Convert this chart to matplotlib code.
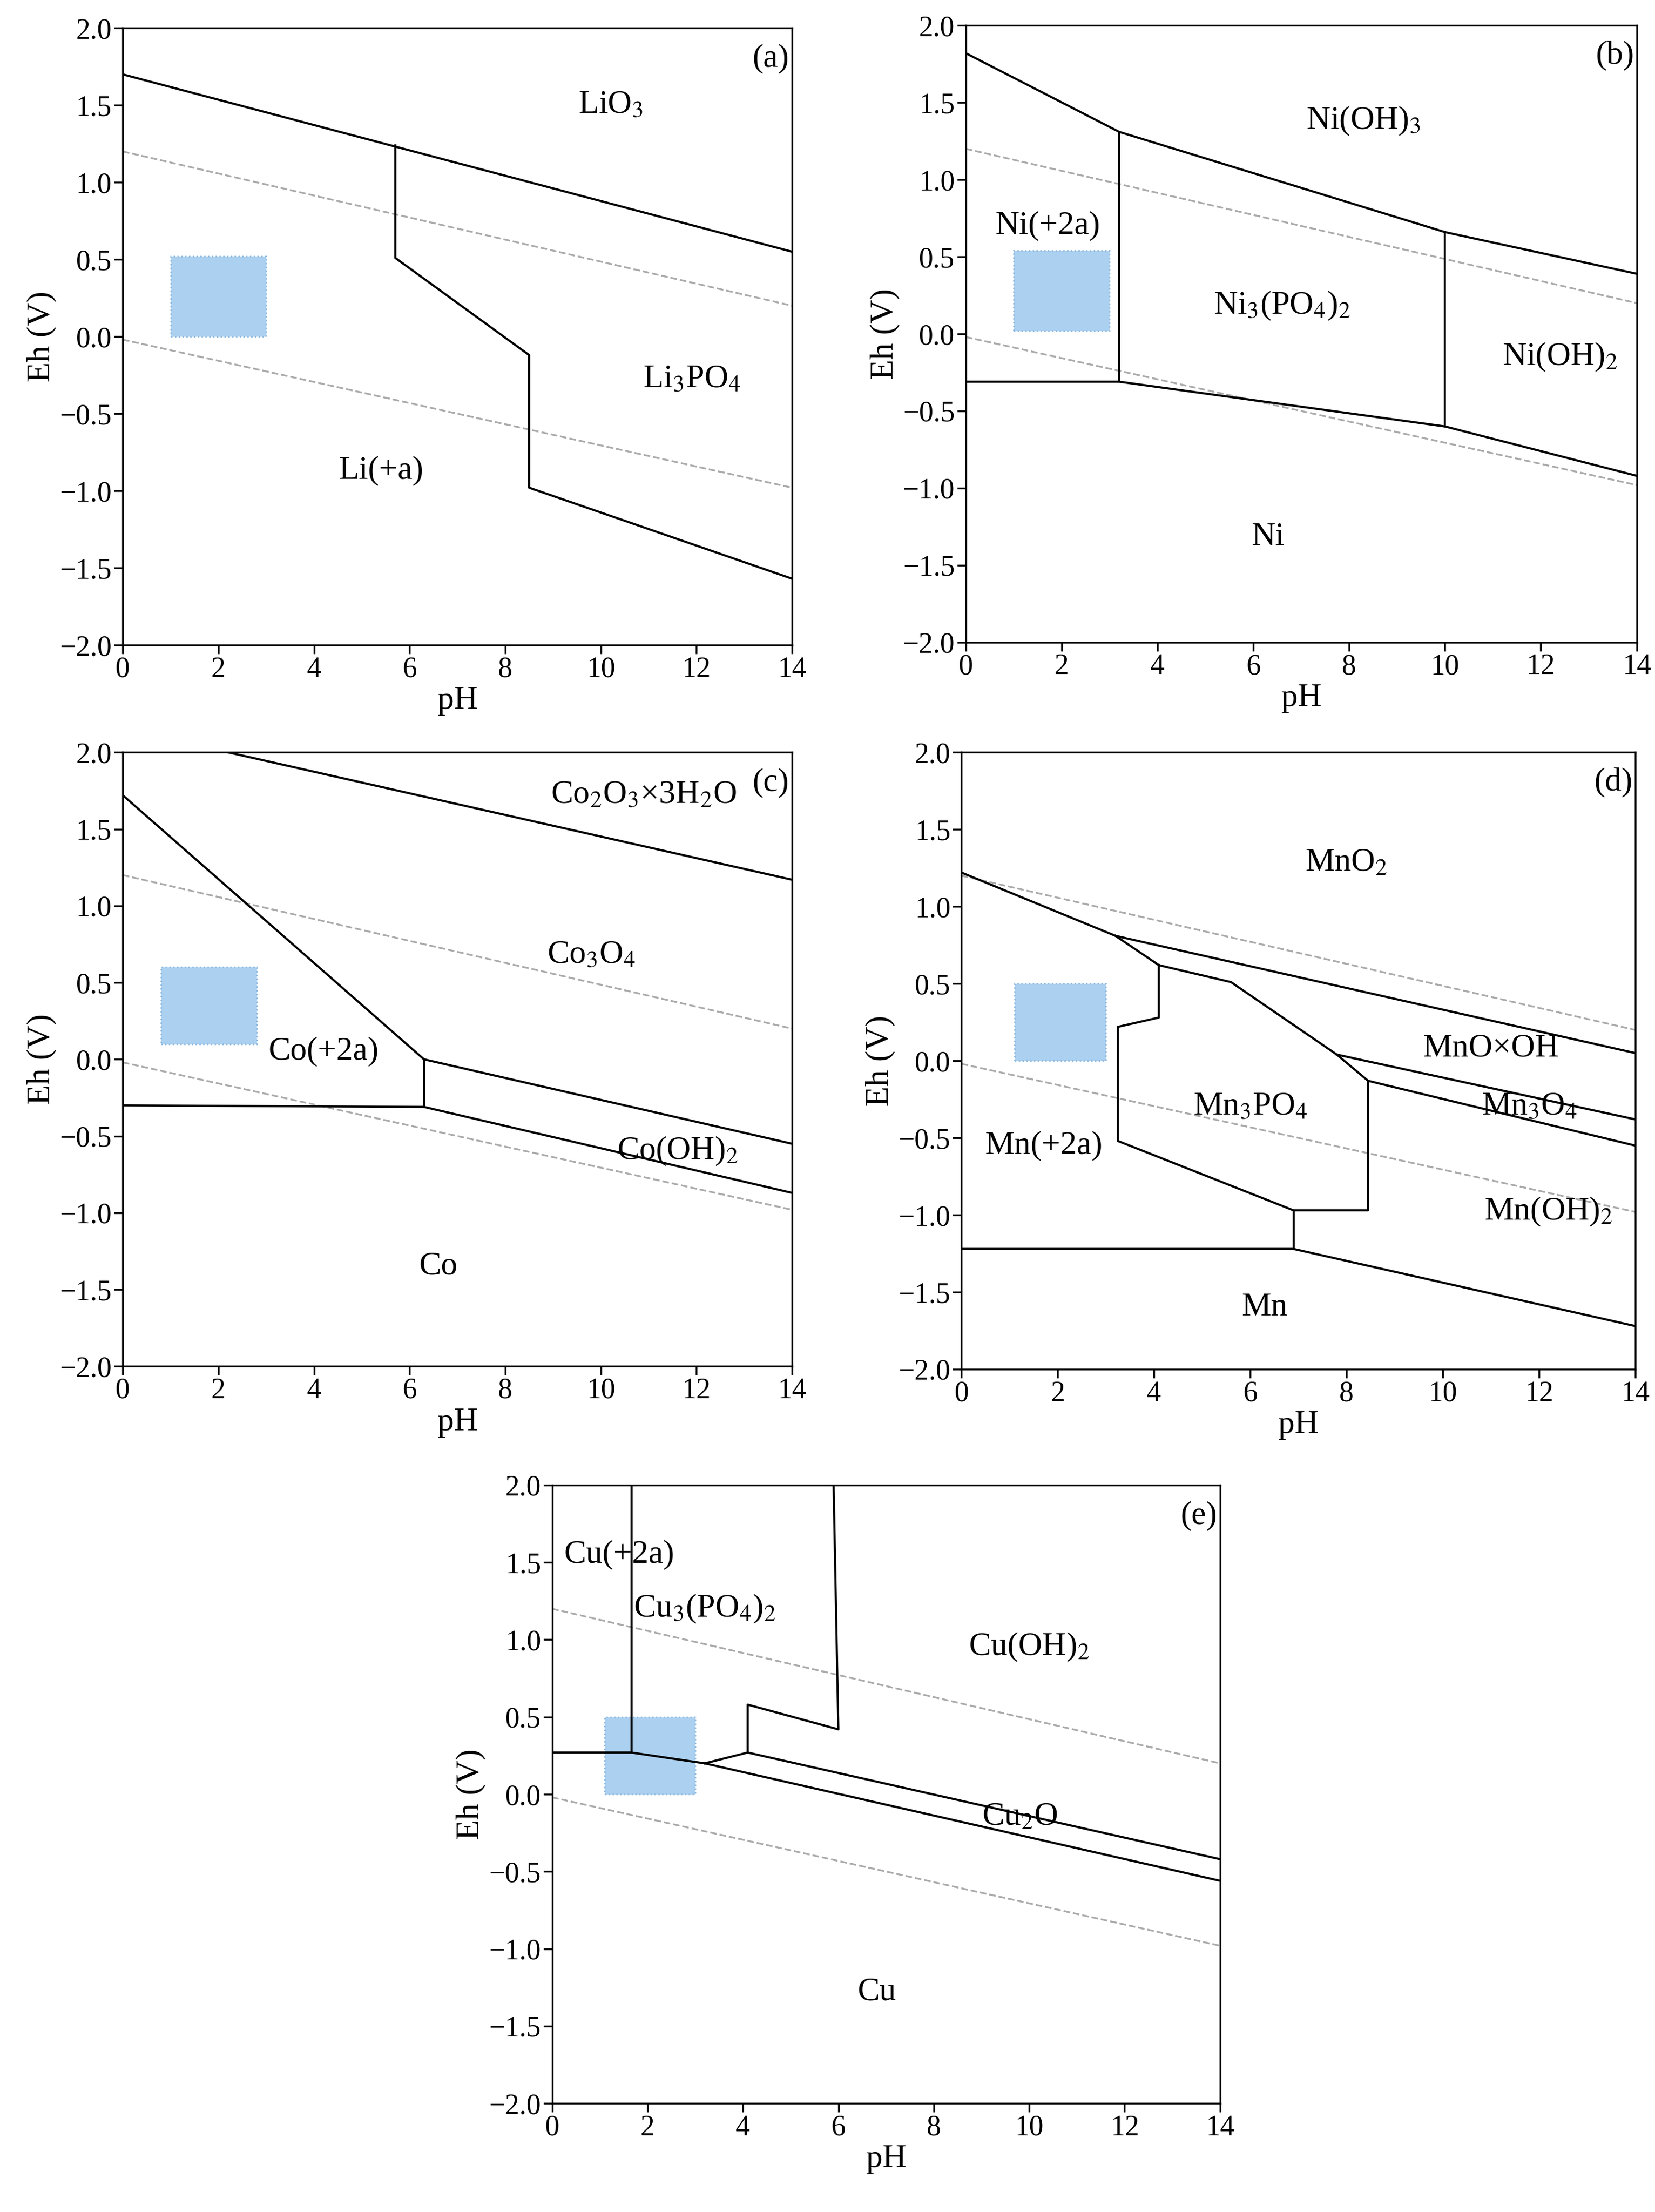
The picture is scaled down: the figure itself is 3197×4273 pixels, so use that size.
import matplotlib
matplotlib.use("Agg")
import matplotlib.pyplot as plt
from matplotlib.patches import Rectangle

plt.rcParams['font.family'] = ['Liberation Serif', 'DejaVu Serif']
plt.rcParams['mathtext.fontset'] = 'stix'

# water stability lines (pH, Eh)
water_upper = [(0, 1.2), (14, 0.2)]
water_lower = [(0, -0.02), (14, -0.98)]

# boundary polylines per panel
lines_a = [
    [(0, 1.7), (14, 0.55)],
    [(5.7, 1.24), (5.7, 0.51), (8.5, -0.12), (8.5, -0.98), (14, -1.57)],
]
labels_a = [("LiO$_3$", 10.2, 1.5), ("Li$_3$PO$_4$", 11.9, -0.28), ("Li(+a)", 5.4, -0.87)]

lines_b = [
    [(0, 1.82), (3.2, 1.31), (10.0, 0.66), (14, 0.39)],
    [(3.2, 1.31), (3.2, -0.31)],
    [(0, -0.31), (3.2, -0.31), (10.0, -0.6), (14, -0.92)],
    [(10.0, 0.66), (10.0, -0.6)],
]
labels_b = [("Ni(OH)$_3$", 8.3, 1.38), ("Ni(+2a)", 1.7, 0.7), ("Ni$_3$(PO$_4$)$_2$", 6.6, 0.18),
            ("Ni(OH)$_2$", 12.4, -0.15), ("Ni", 6.3, -1.32)]

lines_c = [
    [(2.2, 2.0), (14, 1.17)],
    [(0, 1.72), (6.3, 0.0), (14, -0.55)],
    [(6.3, 0.0), (6.3, -0.31)],
    [(0, -0.3), (6.3, -0.31), (14, -0.87)],
]
labels_c = [("Co$_2$O$_3$×3H$_2$O", 10.9, 1.72), ("Co$_3$O$_4$", 9.8, 0.68), ("Co(+2a)", 4.2, 0.05),
            ("Co(OH)$_2$", 11.6, -0.6), ("Co", 6.6, -1.35)]

lines_d = [
    [(0, 1.22), (3.2, 0.81), (14, 0.05)],
    [(3.2, 0.81), (4.1, 0.62), (5.6, 0.51), (7.8, 0.04), (8.45, -0.13), (8.45, -0.97),
     (6.9, -0.97), (3.25, -0.52), (3.25, 0.22), (4.1, 0.28), (4.1, 0.62)],
    [(7.8, 0.04), (14, -0.38)],
    [(8.45, -0.13), (14, -0.55)],
    [(0, -1.22), (6.9, -1.22), (14, -1.72)],
    [(6.9, -0.97), (6.9, -1.22)],
]
labels_d = [("MnO$_2$", 8.0, 1.28), ("MnO×OH", 11.0, 0.08), ("Mn$_3$PO$_4$", 6.0, -0.3),
            ("Mn$_3$O$_4$", 11.8, -0.3), ("Mn(+2a)", 1.7, -0.55), ("Mn(OH)$_2$", 12.2, -0.98),
            ("Mn", 6.3, -1.6)]

lines_e = [
    [(1.66, 2.0), (1.66, 0.27)],
    [(0, 0.27), (1.66, 0.27), (3.2, 0.2), (14, -0.56)],
    [(3.2, 0.2), (4.1, 0.27), (14, -0.42)],
    [(4.1, 0.27), (4.1, 0.58), (6.0, 0.42), (5.9, 2.0)],
]
labels_e = [("Cu(+2a)", 1.4, 1.55), ("Cu$_3$(PO$_4$)$_2$", 3.2, 1.2), ("Cu(OH)$_2$", 10.0, 0.95),
            ("Cu$_2$O", 9.8, -0.15), ("Cu", 6.8, -1.28)]

panels = [
    ("(a)", [0.0742, 0.7084, 0.4044, 0.2789], lines_a, labels_a, (1, 0, 2, 0.52)),
    ("(b)", [0.5836, 0.7096, 0.4053, 0.2789], lines_b, labels_b, (1, 0.02, 2, 0.52)),
    ("(c)", [0.0742, 0.3823, 0.4044, 0.2776], lines_c, labels_c, (0.8, 0.1, 2, 0.5)),
    ("(d)", [0.5810, 0.3810, 0.4070, 0.2789], lines_d, labels_d, (1.1, 0.0, 1.9, 0.5)),
    ("(e)", [0.3336, 0.0491, 0.4036, 0.2795], lines_e, labels_e, (1.1, 0.0, 1.9, 0.5)),
]

fig = plt.figure(figsize=(31.97, 42.73), dpi=100)
for tag, rect, lines, labels, box in panels:
    ax = fig.add_axes(rect)
    ax.set_xlim(0, 14)
    ax.set_ylim(-2, 2)
    for wl in (water_upper, water_lower):
        ax.plot([p[0] for p in wl], [p[1] for p in wl], ls='--', color='#aaaaaa', lw=2.5)
    ax.add_patch(Rectangle((box[0], box[1]), box[2], box[3], facecolor='#abd0f0',
                           edgecolor='#8ab8e0', ls=':', lw=2, zorder=2))
    for ln in lines:
        ax.plot([p[0] for p in ln], [p[1] for p in ln], color='black', lw=3, zorder=3)
    for txt, x, y in labels:
        ax.text(x, y, txt, fontsize=46, ha='center', va='center', zorder=4)
    ax.text(13.55, 1.8, tag, fontsize=46, ha='center', va='center')
    ax.set_xticks(range(0, 15, 2))
    ax.set_yticks([-2, -1.5, -1, -0.5, 0, 0.5, 1, 1.5, 2])
    ax.set_yticklabels(["−2.0", "−1.5", "−1.0", "−0.5", "0.0", "0.5", "1.0", "1.5", "2.0"])
    ax.tick_params(labelsize=40, width=2.5, length=12, direction='out')
    for s in ax.spines.values():
        s.set_linewidth(2.5)
    ax.set_xlabel("pH", fontsize=46, labelpad=4)
    ax.set_ylabel("Eh (V)", fontsize=46, labelpad=4)

fig.savefig("out.png", dpi=100)
